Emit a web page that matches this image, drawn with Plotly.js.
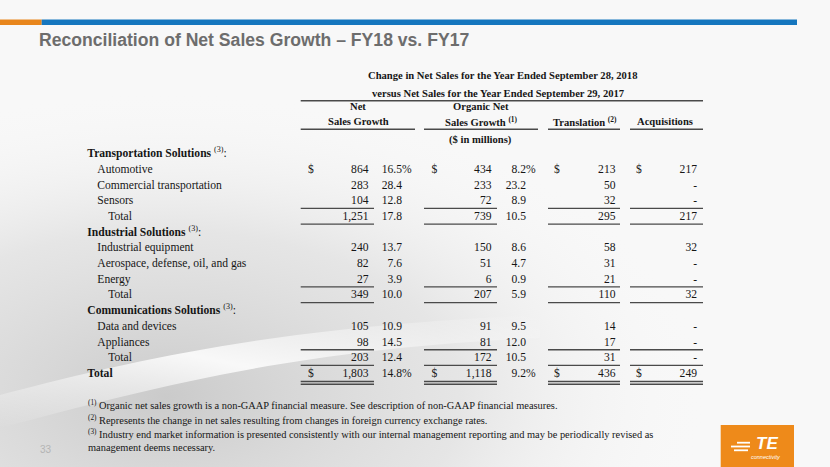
<!DOCTYPE html>
<html>
<head>
<meta charset="utf-8">
<script src="https://cdn.plot.ly/plotly-3.0.1.min.js"></script>
<style>
  html, body { margin: 0; padding: 0; background: #f7f7f7; }
  #chart { width: 830px; height: 467px; }
</style>
</head>
<body>
<div id="chart"></div>
<script>
// ---------------- DATA ----------------
const categories = ['Transportation Solutions', 'Automotive', 'Commercial transportation', 'Sensors', 'Total',
  'Industrial Solutions', 'Industrial equipment', 'Aerospace, defense, oil, and gas', 'Energy', 'Total',
  'Communications Solutions', 'Data and devices', 'Appliances', 'Total', 'Total'];
const rowKinds = ['segment', 'item', 'item', 'item', 'subtotal',
  'segment', 'item', 'item', 'item', 'subtotal',
  'segment', 'item', 'item', 'subtotal', 'total'];
const netSalesGrowth    = [null, 864, 283, 104, 1251, null, 240, 82, 27, 349, null, 105, 98, 203, 1803];
const netSalesGrowthPct = [null, 16.5, 28.4, 12.8, 17.8, null, 13.7, 7.6, 3.9, 10.0, null, 10.9, 14.5, 12.4, 14.8];
const organicGrowth     = [null, 434, 233, 72, 739, null, 150, 51, 6, 207, null, 91, 81, 172, 1118];
const organicGrowthPct  = [null, 8.2, 23.2, 8.9, 10.5, null, 8.6, 4.7, 0.9, 5.9, null, 9.5, 12.0, 10.5, 9.2];
const translation       = [null, 213, 50, 32, 295, null, 58, 31, 21, 110, null, 14, 17, 31, 436];
const acquisitions      = [null, 217, 0, 0, 217, null, 32, 0, 0, 32, null, 0, 0, 0, 249];
const dollarRows = [1, 14];            // rows that carry "$" and "%"
const underlineAfter = [3, 4, 8, 9, 12, 13];

const slideTitle = 'Reconciliation of Net Sales Growth \u2013 FY18 vs. FY17';
const tableTitle = ['Change in Net Sales for the Year Ended September 28, 2018',
                    'versus Net Sales for the Year Ended September 29, 2017'];
const columnHeadersTop = ['Net', 'Organic Net', '', ''];
const columnHeadersBottom = ['Sales Growth', 'Sales Growth <sup>(1)</sup>', 'Translation <sup>(2)</sup>', 'Acquisitions'];
const unitsLabel = '($ in millions)';
const footnotes = [
  '<sup>(1)</sup> Organic net sales growth is a non-GAAP financial measure. See description of non-GAAP financial measures.',
  '<sup>(2)</sup> Represents the change in net sales resulting from changes in foreign currency exchange rates.',
  '<sup>(3)</sup> Industry end market information is presented consistently with our internal management reporting and may be periodically revised as',
  'management deems necessary.'
];
const pageNumber = '33';

// ---------------- LAYOUT GEOMETRY ----------------
const W = 830, H = 467;
const row0 = 154.3, rowStep = 15.7;
const rowY = categories.map((_, i) => row0 + i * rowStep);
const serif = '"Liberation Serif", "Times New Roman", serif';
const sans = '"Liberation Sans", Arial, sans-serif';
const ink = '#161616';
const ruleColor = '#4a4a4a';

const col = {
  netDollar: 308, netVal: 368.5, netPct: 402,
  orgDollar: 431.5, orgVal: 491.5, orgPct: 526,
  trDollar: 554, trVal: 615.5,
  acqDollar: 636, acqVal: 697
};
const segs = [[300.7, 374], [424, 497], [548, 620], [630, 703]];
const headSegs = [[300.7, 415], [424, 538], [548, 620], [630, 703]];
const headCenters = [358, 481, 584.5, 665];

const fmt = v => v.toLocaleString('en-US');
const fmtPct = v => v.toFixed(1);

function textTrace(xpos, rowsIdx, texts, pos) {
  return {
    type: 'scatter', mode: 'text',
    x: rowsIdx.map(() => xpos), y: rowsIdx.map(i => rowY[i]),
    text: texts, textposition: pos, cliponaxis: false, hoverinfo: 'skip', showlegend: false,
    textfont: { family: serif, size: 11.6, color: ink }
  };
}

const valueRows = categories.map((_, i) => i).filter(i => netSalesGrowth[i] !== null);
const traces = [];

// labels
const labelX = { segment: 87.3, item: 97.3, subtotal: 108.3, total: 87.3 };
['segment', 'item', 'subtotal', 'total'].forEach(kind => {
  const idx = categories.map((_, i) => i).filter(i => rowKinds[i] === kind);
  const txt = idx.map(i => kind === 'segment' ? '<b>' + categories[i] + '</b> <sup>(3)</sup>:' :
                           kind === 'total' ? '<b>' + categories[i] + '</b>' : categories[i]);
  traces.push(textTrace(labelX[kind], idx, txt, 'middle right'));
});

// dollar signs
[col.netDollar, col.orgDollar, col.trDollar, col.acqDollar].forEach(x => {
  traces.push(textTrace(x, dollarRows, dollarRows.map(() => '$'), 'middle right'));
});
// values
traces.push(textTrace(col.netVal, valueRows, valueRows.map(i => fmt(netSalesGrowth[i])), 'middle left'));
traces.push(textTrace(col.netPct, valueRows, valueRows.map(i => fmtPct(netSalesGrowthPct[i])), 'middle left'));
traces.push(textTrace(col.orgVal, valueRows, valueRows.map(i => fmt(organicGrowth[i])), 'middle left'));
traces.push(textTrace(col.orgPct, valueRows, valueRows.map(i => fmtPct(organicGrowthPct[i])), 'middle left'));
traces.push(textTrace(col.trVal, valueRows, valueRows.map(i => fmt(translation[i])), 'middle left'));
traces.push(textTrace(col.acqVal, valueRows, valueRows.map(i => acquisitions[i] === 0 ? '-' : fmt(acquisitions[i])), 'middle left'));
// percent signs
[col.netPct, col.orgPct].forEach(x => {
  traces.push(textTrace(x, dollarRows, dollarRows.map(() => '%'), 'middle right'));
});

// ---------------- SHAPES ----------------
const shapes = [];
// top colour bar
shapes.push({ type: 'rect', xref: 'x', yref: 'y', x0: 0, x1: 41.7, y0: 19.5, y1: 25, fillcolor: '#e8861c', line: { width: 0 } });
shapes.push({ type: 'rect', xref: 'x', yref: 'y', x0: 41.7, x1: 797, y0: 19.5, y1: 25, fillcolor: '#1576be', line: { width: 0 } });
// header rules
shapes.push({ type: 'line', xref: 'x', yref: 'y', x0: 300.7, x1: 703, y0: 100.7, y1: 100.7, line: { color: ruleColor, width: 1.4 } });
headSegs.forEach(s => shapes.push({ type: 'line', xref: 'x', yref: 'y', x0: s[0], x1: s[1], y0: 129.3, y1: 129.3, line: { color: ruleColor, width: 1.4 } }));
// data underlines
underlineAfter.forEach(i => segs.forEach(s => shapes.push({
  type: 'line', xref: 'x', yref: 'y', x0: s[0], x1: s[1], y0: rowY[i] + 7, y1: rowY[i] + 7, line: { color: ruleColor, width: 1.4 } })));
// double rule under grand total
[7.4, 10.2].forEach(d => segs.forEach(s => shapes.push({
  type: 'line', xref: 'x', yref: 'y', x0: s[0], x1: s[1], y0: rowY[14] + d, y1: rowY[14] + d, line: { color: ruleColor, width: 1.5 } })));
// TE logo box
shapes.push({ type: 'rect', xref: 'x', yref: 'y', x0: 720.7, x1: 794, y0: 425, y1: 467, fillcolor: '#ee8a1a', line: { width: 0 } });
[[441.8, 443.6, 737, 750], [445.6, 447.4, 731, 750], [449.4, 451.2, 734, 748]].forEach(b =>
  shapes.push({ type: 'rect', xref: 'x', yref: 'y', x0: b[2], x1: b[3], y0: b[0], y1: b[1], fillcolor: '#ffffff', line: { width: 0 } }));

// ---------------- ANNOTATIONS ----------------
const ann = [];
const A = (x, y, text, font, xanchor) => ann.push({ xref: 'x', yref: 'y', x, y, text, showarrow: false,
  xanchor: xanchor || 'center', yanchor: 'middle', font });
A(37, 40, '<b>' + slideTitle + '</b>', { family: sans, size: 17.6, color: '#6d6d6d' }, 'left');
const hfont = { family: serif, size: 10.6, color: ink };
A(502, 75.7, '<b>' + tableTitle[0] + '</b>', hfont);
A(498, 93.3, '<b>' + tableTitle[1] + '</b>', hfont);
columnHeadersTop.forEach((t, k) => { if (t) A(headCenters[k], 106.7, '<b>' + t + '</b>', hfont); });
columnHeadersBottom.forEach((t, k) => A(headCenters[k], 121.7, '<b>' + t + '</b>', hfont));
A(480, 140, '<b>' + unitsLabel + '</b>', hfont);
const fnY = [405, 420, 434, 447.3];
const ffont = { family: serif, size: 10.4, color: ink };
footnotes.forEach((t, k) => A(86, fnY[k], t, ffont, 'left'));
A(46, 449, pageNumber, { family: sans, size: 10, color: '#b4b4b4' });
A(766.5, 443.5, '<b><i>TE</i></b>', { family: sans, size: 17, color: '#ffffff' });
A(766, 456.5, '<i>connectivity</i>', { family: sans, size: 5.5, color: '#ffffff' });

// faint background texture (decorative)
const bgSvg = `<svg xmlns='http://www.w3.org/2000/svg' width='830' height='467'>
<defs>
<radialGradient id='g' cx='0.2' cy='0.85' r='0.65'>
<stop offset='0' stop-color='#c8c8c8' stop-opacity='0.95'/>
<stop offset='0.55' stop-color='#d9d9d9' stop-opacity='0.6'/>
<stop offset='1' stop-color='#f7f7f7' stop-opacity='0'/>
</radialGradient>
<linearGradient id='b' x1='0' y1='1' x2='1' y2='0'>
<stop offset='0' stop-color='#ffffff' stop-opacity='0'/>
<stop offset='0.5' stop-color='#ffffff' stop-opacity='0.85'/>
<stop offset='1' stop-color='#ffffff' stop-opacity='0'/>
</linearGradient>
</defs>
<rect width='830' height='467' fill='#f8f8f8'/>
<rect width='830' height='467' fill='url(#g)'/>
<path d='M0 395 C 150 355, 300 325, 540 315 L 540 338 C 300 348, 150 388, 0 428 Z' fill='url(#b)'/>
</svg>`;

const layout = {
  width: W, height: H,
  margin: { l: 0, r: 0, t: 0, b: 0 },
  paper_bgcolor: '#f8f8f8', plot_bgcolor: 'rgba(0,0,0,0)',
  xaxis: { range: [0, W], visible: false, fixedrange: true },
  yaxis: { range: [H, 0], visible: false, fixedrange: true },
  shapes, annotations: ann,
  images: [{ source: 'data:image/svg+xml;utf8,' + encodeURIComponent(bgSvg), xref: 'paper', yref: 'paper',
    x: 0, y: 1, sizex: 1, sizey: 1, sizing: 'stretch', layer: 'below', xanchor: 'left', yanchor: 'top' }],
  showlegend: false
};

Plotly.newPlot('chart', traces, layout, { staticPlot: true, displayModeBar: false });
</script>
</body>
</html>
